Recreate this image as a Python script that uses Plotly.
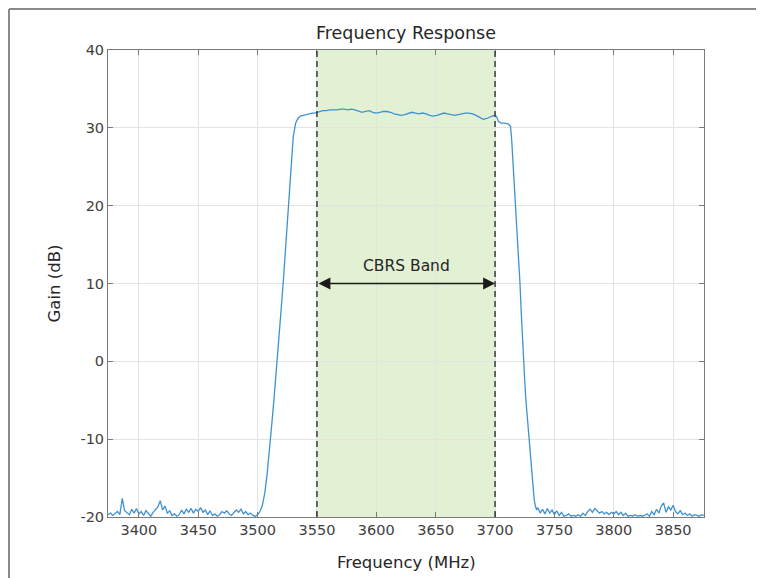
import plotly.graph_objects as go

# ---------------- data ----------------
freq_left = list(range(3374, 3552, 2))
gain_left = [
    -19.7, -19.5, -19.8, -19.6, -19.3, -19.7, -17.6, -19.2, -19.4, -19.7,
    -19.0, -19.5, -18.9, -19.6, -19.3, -19.8, -19.2, -19.6, -19.9, -19.4,
    -19.0, -18.7, -17.9, -19.1, -18.6, -19.5, -19.2, -19.8, -19.6, -19.9,
    -19.7, -19.1, -19.6, -19.0, -19.4, -18.9, -19.5, -19.0, -19.3, -18.8,
    -19.4, -19.1, -19.7, -19.2, -19.8, -19.6, -19.9, -19.7, -19.3, -19.5,
    -19.2, -19.6, -19.8, -19.5, -19.1, -19.4, -19.0, -19.6, -19.3, -19.7,
    -19.5, -19.8, -19.9, -19.7,
    -19.3, -18.5, -17.0, -14.5, -11.5, -8.0, -4.5, -1.0, 3.0, 7.0,
    11.0, 15.5, 20.0, 25.0, 28.8, 30.6, 31.2, 31.5, 31.6, 31.7,
    31.8, 31.8, 31.9, 31.9, 32.0,
]

freq_pass = list(range(3552, 3700, 3))
gain_pass = [
    32.1, 32.2, 32.2, 32.3, 32.3, 32.3, 32.4, 32.4, 32.3, 32.4,
    32.3, 32.1, 32.0, 32.1, 32.2, 32.0, 31.9, 32.0, 32.1, 32.1,
    32.0, 31.8, 31.7, 31.6, 31.7, 31.9, 32.0, 31.9, 31.8, 31.9,
    31.8, 31.6, 31.5, 31.6, 31.8, 31.9, 31.8, 31.7, 31.6, 31.7,
    31.8, 31.9, 31.9, 31.8, 31.6, 31.3, 31.1, 31.2, 31.4, 31.6,
]

freq_edge = [3701, 3703, 3705, 3708, 3711, 3713, 3714, 3715, 3716, 3717,
             3718, 3719, 3720, 3721, 3722, 3723, 3724, 3725, 3726, 3727,
             3728, 3729, 3730, 3731, 3732, 3733, 3734, 3735, 3736, 3738]
gain_edge = [31.5, 30.8, 30.6, 30.6, 30.5, 30.2, 28.5, 26.0, 23.5, 21.0,
             18.0, 15.0, 12.5, 10.0, 6.5, 3.0, 0.0, -2.5, -5.0, -7.0,
             -9.0, -10.5, -12.5, -14.5, -16.5, -17.8, -18.6, -19.1, -18.8, -19.5]

freq_right = list(range(3740, 3878, 2))
gain_right = [
    -19.0, -19.6, -18.9, -19.5, -19.1, -19.7, -19.2, -19.8, -19.4, -19.9,
    -19.8, -19.6, -19.9, -19.8, -19.9, -19.7, -19.9, -19.5, -19.8, -19.3,
    -19.0, -19.4, -18.9, -19.2, -19.5, -19.3, -19.6, -19.4, -19.7, -19.4,
    -19.6, -19.3, -19.7, -19.4, -19.8, -19.5, -19.9, -19.8, -19.9, -19.7,
    -19.9, -19.8, -19.9, -19.8, -19.6, -19.9, -19.3, -19.7, -19.0, -19.5,
    -18.6, -18.2, -19.4, -18.7, -19.1, -18.5, -19.3, -19.6, -19.2, -19.7,
    -19.5, -19.8, -19.6, -19.9, -19.7, -19.8, -19.9, -19.7, -19.8,
]

freq_mhz = freq_left + freq_pass + freq_edge + freq_right
gain_db = gain_left + gain_pass + gain_edge + gain_right

band_start = 3550
band_stop = 3700
band_label = "CBRS Band"
arrow_level = 10
label_level = 12.2

x_range = [3374, 3876]
y_range = [-20, 40]
x_ticks = [3400, 3450, 3500, 3550, 3600, 3650, 3700, 3750, 3800, 3850]
y_ticks = [-20, -10, 0, 10, 20, 30, 40]

# ---------------- figure ----------------
FONT = "DejaVu Sans"
W, H = 756, 570  # page adds an 8px body margin
ML, MR, MT, MB = 100, 60, 42, 61
PW, PH = W - ML - MR, H - MT - MB
fig = go.Figure()

fig.add_trace(go.Scatter(
    x=freq_mhz, y=gain_db, mode="lines",
    line=dict(color="#3f92d2", width=1.3),
    showlegend=False, hoverinfo="x+y",
))

# shaded band (below grid)
fig.add_shape(type="rect", xref="x", yref="paper",
              x0=band_start, x1=band_stop, y0=0, y1=1,
              fillcolor="#e2f0d3", line=dict(width=0), layer="below")
# dashed boundaries
for xv in (band_start, band_stop):
    fig.add_shape(type="line", xref="x", yref="paper",
                  x0=xv, x1=xv, y0=0, y1=1,
                  line=dict(color="#3a3a3a", width=1.5, dash="6px,4px"),
                  layer="above")

# double arrow
fig.add_annotation(x=band_stop, y=arrow_level, ax=band_start, ay=arrow_level,
                   xref="x", yref="y", axref="x", ayref="y",
                   text="", showarrow=True, arrowhead=2, arrowside="end+start",
                   arrowsize=1.7, arrowwidth=1.4, arrowcolor="#1a1a1a",
                   standoff=0, startstandoff=0)
fig.add_annotation(x=(band_start + band_stop) / 2, y=label_level,
                   xref="x", yref="y", text=band_label, showarrow=False,
                   font=dict(family=FONT, size=15.5, color="#262626"),
                   yanchor="middle")

# axis titles as annotations
fig.add_annotation(x=0.5, y=-0.098, xref="paper", yref="paper",
                   text="Frequency (MHz)", showarrow=False,
                   font=dict(family=FONT, size=16.5, color="#262626"),
                   yanchor="middle")
fig.add_annotation(x=-0.089, y=0.5, xref="paper", yref="paper",
                   text="Gain (dB)", showarrow=False, textangle=-90,
                   font=dict(family=FONT, size=16.5, color="#262626"),
                   xanchor="center", yanchor="middle")

# outer figure frame (top and left edges), placed 1px inside the figure
fx = (1 - ML) / PW
fy = 1 + (MT - 1) / PH
fig.add_shape(type="line", xref="paper", yref="paper",
              x0=fx, x1=1 + MR / PW, y0=fy, y1=fy,
              line=dict(color="#8a8a8a", width=2))
fig.add_shape(type="line", xref="paper", yref="paper",
              x0=fx, x1=fx, y0=-MB / PH, y1=fy,
              line=dict(color="#8a8a8a", width=2))

axis_common = dict(
    showline=True, linecolor="#7a7a7a", linewidth=1, mirror="ticks",
    ticks="inside", ticklen=5, tickcolor="#7a7a7a", tickwidth=1,
    showgrid=True, gridcolor="#e3e3e3", gridwidth=1, zeroline=False,
    tickfont=dict(family=FONT, size=14.5, color="#404040"),
)

fig.update_xaxes(range=x_range, tickvals=x_ticks,
                 ticktext=[str(v) for v in x_ticks], **axis_common)
fig.update_yaxes(range=y_range, tickvals=y_ticks,
                 ticktext=[str(v) for v in y_ticks], **axis_common)

fig.update_layout(
    width=W, height=H,
    margin=dict(l=ML, r=MR, t=MT, b=MB),
    paper_bgcolor="white", plot_bgcolor="white",
    title=dict(text="Frequency Response", x=0.5, xref="paper",
               y=1 - 25 / H, yanchor="middle",
               font=dict(family=FONT, size=17.5, color="#262626")),
    showlegend=False,
)

fig.write_html("out.html")
